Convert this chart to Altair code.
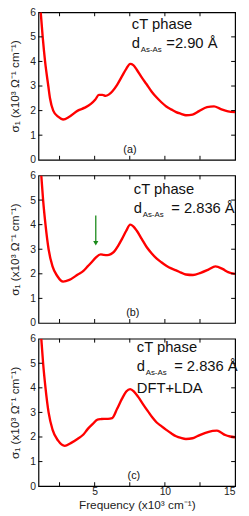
import altair as alt
import pandas as pd

# ---- data ----
xa = [1.16, 1.3, 1.47, 1.7, 1.82, 2.05, 2.4, 2.75, 3.2, 3.8, 4.3, 4.73, 5.05, 5.3, 5.55, 5.78, 6.0, 6.25,
      6.6, 6.95, 7.25, 7.53, 7.75, 8.0, 8.35, 8.7, 9.05, 9.4, 9.75, 10.1, 10.45, 10.8, 11.15, 11.5,
      11.97, 12.43, 13.0, 13.5, 13.95, 14.5, 15.0]
ya = [6.0, 5.0, 4.0, 3.0, 2.5, 2.0, 1.75, 1.64, 1.75, 2.0, 2.12, 2.27, 2.45, 2.64, 2.64, 2.6, 2.65, 2.78,
      3.05, 3.4, 3.7, 3.9, 3.85, 3.66, 3.35, 3.07, 2.78, 2.54, 2.34, 2.17, 2.05, 1.94, 1.87, 1.81,
      1.84, 1.98, 2.14, 2.17, 2.07, 1.97, 1.94]

xb = [1.2, 1.33, 1.5, 1.72, 2.0, 2.35, 2.75, 3.2, 3.8, 4.2, 4.5, 4.8, 5.08, 5.43, 5.65, 5.9, 6.15, 6.37,
      6.65, 6.95, 7.25, 7.53, 7.75, 8.0, 8.35, 8.7, 9.05, 9.4, 9.75, 10.1, 10.45, 10.8, 11.15, 11.5,
      12.0, 12.55, 13.1, 13.6, 14.1, 14.5, 15.0]
yb = [6.0, 5.0, 4.0, 3.0, 2.3, 1.9, 1.68, 1.75, 1.97, 2.12, 2.3, 2.48, 2.66, 2.79, 2.77, 2.76, 2.8, 2.89,
      3.12, 3.42, 3.75, 4.0, 3.93, 3.75, 3.42, 3.09, 2.84, 2.63, 2.47, 2.33, 2.22, 2.14, 2.05, 1.97,
      1.95, 2.04, 2.17, 2.3, 2.2, 2.07, 2.0]

xc = [1.2, 1.33, 1.5, 1.72, 2.0, 2.4, 2.87, 3.3, 3.8, 4.2, 4.5, 4.85, 5.2, 5.45, 5.67, 5.95, 6.25, 6.6,
      6.95, 7.25, 7.53, 7.8, 8.1, 8.45, 8.8, 9.1, 9.4, 9.75, 10.1, 10.45, 10.8, 11.15, 11.5, 11.97,
      12.3, 12.66, 13.0, 13.4, 13.7, 14.0, 14.3, 14.65, 15.0]
yc = [6.0, 5.0, 4.0, 3.0, 2.3, 1.85, 1.64, 1.75, 1.93, 2.1, 2.32, 2.52, 2.71, 2.73, 2.74, 2.74, 2.77, 3.15,
      3.56, 3.85, 3.95, 3.85, 3.63, 3.33, 3.04, 2.8, 2.6, 2.44, 2.29, 2.15, 2.03, 1.96, 1.92, 1.95,
      2.03, 2.12, 2.19, 2.25, 2.26, 2.18, 2.08, 2.02, 1.99]

x_ticks = [2.5, 5, 7.5, 10, 12.5]
x_labels = [5, 10, 15]
y_ticks = [1, 2, 3, 4, 5]
y_labels = [0, 1, 2, 3, 4, 5, 6]

arrow_x = [5.08]
arrow_top = [4.37]
arrow_bottom = [3.3]
arrow_head = [3.24]

panel_tags = ["(a)", "(b)", "(c)"]
phase_text = "cT phase"
d_main = "d"
d_sub = "As-As"
d_vals = ["=2.90 Å", "= 2.836 Å", "= 2.836 Å"]
extra_text = "DFT+LDA"

x_title = "Frequency (x10³ cm⁻¹)"
y_title = "σ₁ (x10³ Ω⁻¹ cm⁻¹)"

W, H = 200, 150
FONT = "Liberation Sans"


def txt(s, x, y, size, align="left"):
    return alt.Chart(pd.DataFrame({"t": [s]})).mark_text(
        font=FONT, fontSize=size, align=align, baseline="middle", color="#111"
    ).encode(text="t:N", x=alt.value(x), y=alt.value(y))


def panel(xs, ys, idx, show_x, top_off):
    if show_x:
        xaxis = alt.Axis(values=x_labels, title=x_title, labelPadding=0, titlePadding=3, format="d")
    else:
        xaxis = None
    yaxis = alt.Axis(values=y_labels, title=y_title, labelPadding=3, titlePadding=8, format="d")
    xenc = alt.X("x:Q", scale=alt.Scale(domain=[1, 15], nice=False, zero=False), axis=xaxis)
    yenc = alt.Y("y:Q", scale=alt.Scale(domain=[0, 6], nice=False), axis=yaxis)

    line = alt.Chart(pd.DataFrame({"x": xs, "y": ys})).mark_line(
        color="#ff0000", strokeWidth=2.4, clip=True, interpolate="monotone"
    ).encode(x=xenc, y=yenc)

    xt = pd.DataFrame({"x": x_ticks})
    yt = pd.DataFrame({"y": y_ticks})
    tb = alt.Chart(xt).mark_rule(color="black").encode(x=xenc, y=alt.value(H), y2=alt.value(H - 4))
    tt = alt.Chart(xt).mark_rule(color="black").encode(x=xenc, y=alt.value(0), y2=alt.value(4))
    tl = alt.Chart(yt).mark_rule(color="black").encode(y=yenc, x=alt.value(0), x2=alt.value(4))
    tr = alt.Chart(yt).mark_rule(color="black").encode(y=yenc, x=alt.value(W), x2=alt.value(W - 4))

    layers = [line, tb, tt, tl, tr]

    ox = 95 if idx == 0 else (97 if idx == 1 else 100)
    layers.append(txt(phase_text, ox, top_off, 15))
    layers.append(txt(d_main, ox, top_off + 19, 15))
    layers.append(txt(d_sub, ox + 9, top_off + 26, 8))
    layers.append(txt(d_vals[idx], ox + 35 if idx == 0 else ox + 38, top_off + 19, 15))
    if idx == 2:
        layers.append(txt(extra_text, ox, top_off + 41, 15))
    layers.append(txt(panel_tags[idx], [93, 96, 97][idx], 140, 11, "center"))

    if idx == 1:
        ad = pd.DataFrame({"x": arrow_x, "y": arrow_top, "y2": arrow_bottom, "yh": arrow_head})
        layers.append(alt.Chart(ad).mark_rule(color="#1a8a1a", strokeWidth=1.3).encode(
            x=xenc, y=yenc, y2="y2:Q"))
        layers.append(alt.Chart(ad).mark_point(shape="triangle-down", filled=True, size=28,
                                               color="#1a8a1a", opacity=1).encode(
            x=xenc, y=alt.Y("yh:Q", scale=alt.Scale(domain=[0, 6], nice=False), axis=yaxis)))

    return alt.layer(*layers).properties(width=W, height=H)


a = panel(xa, ya, 0, False, 12)
b = panel(xb, yb, 1, False, 14)
c = panel(xc, yc, 2, True, 9)

chart = alt.vconcat(a, b, c, spacing=3).properties(
    padding={"left": 0, "top": -6, "right": 2, "bottom": 0}
).configure_view(stroke="black", strokeWidth=1.2).configure_axis(
    grid=False, ticks=False, domain=False,
    labelFont=FONT, labelFontSize=10.5, labelColor="#222",
    titleFont=FONT, titleFontSize=12, titleFontWeight="normal", titleColor="#222"
).configure_axisX(titleFontSize=12)

chart.save("out.html", embed_options={"renderer": "svg", "actions": False})
